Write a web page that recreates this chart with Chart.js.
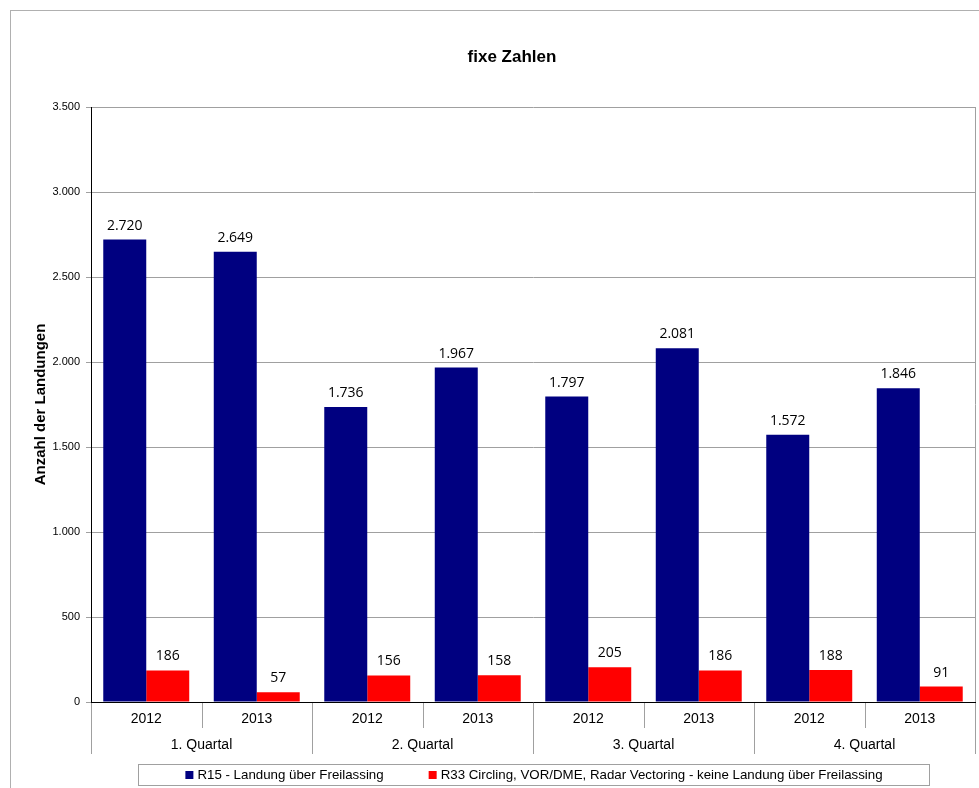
<!DOCTYPE html>
<html><head><meta charset="utf-8">
<script src="https://cdn.jsdelivr.net/npm/chart.js@4/dist/chart.umd.min.js"></script>
<style>html,body{margin:0;padding:0;background:#fff}#wrap{width:979px;height:788px;position:relative}</style>
</head><body><div id="wrap"><canvas id="c"></canvas></div>
<script>
const years = ['2012','2013','2012','2013','2012','2013','2012','2013'];
const quarters = ['1. Quartal','2. Quartal','3. Quartal','4. Quartal'];
const seriesNames = ['R15 - Landung über Freilassing','R33 Circling, VOR/DME, Radar Vectoring - keine Landung über Freilassing'];
const r15 = [2720,2649,1736,1967,1797,2081,1572,1846];
const r33 = [186,57,156,158,205,186,188,91];
const yMin = 0, yMax = 3500, yStep = 500;
const chartTitle = 'fixe Zahlen';
const yTitle = 'Anzahl der Landungen';

const FONT = '"Liberation Sans", Arial, sans-serif';
const LABEL_FONT = '"Open Sans", "DejaVu Sans", sans-serif';
const fmt = v => String(Math.round(v)).replace(/\B(?=(\d{3})+(?!\d))/g, '.');

Chart.defaults.font.family = FONT;
Chart.defaults.color = '#000';

const decor = {
  id: 'decor',
  beforeDraw(chart) {
    const ctx = chart.ctx;
    ctx.save();
    ctx.fillStyle = '#fff';
    ctx.fillRect(0, 0, chart.width, chart.height);
    ctx.strokeStyle = '#b0b0b0';
    ctx.lineWidth = 1;
    ctx.strokeRect(10.5, 10.5, 1200, 1200);
    ctx.restore();
  },
  afterDraw(chart) {
    const ctx = chart.ctx;
    const ca = chart.chartArea;
    const xs = chart.scales.x;
    ctx.save();
    // title
    ctx.fillStyle = '#000';
    ctx.font = 'bold 17px ' + FONT;
    ctx.textAlign = 'center';
    ctx.textBaseline = 'middle';
    ctx.fillText(chartTitle, (ca.left + ca.right) / 2 - 21, 57);
    // right plot border
    ctx.strokeStyle = '#a0a0a0';
    ctx.lineWidth = 1;
    ctx.beginPath();
    ctx.moveTo(Math.round(ca.right) + 0.5, ca.top);
    ctx.lineTo(Math.round(ca.right) + 0.5, ca.bottom);
    ctx.stroke();
    // category dividers
    const n = years.length;
    const cw = (xs.right - xs.left) / n;
    ctx.strokeStyle = '#a0a0a0';
    for (let i = 0; i <= n; i++) {
      const x = Math.round(xs.left + i * cw) + 0.5;
      ctx.beginPath();
      ctx.moveTo(x, ca.bottom + 1);
      ctx.lineTo(x, ca.bottom + (i % 2 === 0 ? 52 : 26));
      ctx.stroke();
    }
    // data labels
    ctx.fillStyle = '#000';
    ctx.font = '14px ' + LABEL_FONT;
    ctx.textAlign = 'center';
    ctx.textBaseline = 'alphabetic';
    chart.data.datasets.forEach((ds, di) => {
      chart.getDatasetMeta(di).data.forEach((el, i) => {
        ctx.fillText(fmt(ds.data[i]), el.x, el.y - 10);
      });
    });
    // legend
    const bx = 138.5, by = 764.5, bw = 791, bh = 21;
    ctx.strokeStyle = '#a0a0a0';
    ctx.strokeRect(bx, by, bw, bh);
    ctx.font = '13.3px ' + FONT;
    ctx.textAlign = 'left';
    ctx.textBaseline = 'middle';
    const sq = 8, gap = 4, spacing = 45;
    const ds = chart.data.datasets;
    const widths = ds.map(d => ctx.measureText(d.label).width);
    let total = 0;
    widths.forEach((w, i) => { total += sq + gap + w + (i ? spacing : 0); });
    let x = bx + bw / 2 - total / 2;
    const cy = by + bh / 2;
    ds.forEach((d, i) => {
      ctx.fillStyle = d.backgroundColor;
      ctx.fillRect(x, cy - sq / 2, sq, sq);
      ctx.fillStyle = '#000';
      ctx.fillText(d.label, x + sq + gap, cy + 0.5);
      x += sq + gap + widths[i] + spacing;
    });
    ctx.restore();
  }
};

new Chart(document.getElementById('c'), {
  type: 'bar',
  data: {
    labels: years,
    datasets: [
      { label: seriesNames[0], data: r15, backgroundColor: '#000080', borderWidth: 0 },
      { label: seriesNames[1], data: r33, backgroundColor: '#ff0000', borderWidth: 0 }
    ]
  },
  options: {
    responsive: true,
    maintainAspectRatio: false,
    animation: false,
    categoryPercentage: 0.778,
    barPercentage: 1.0,
    layout: { padding: { top: 107, left: 10, right: 4, bottom: 34 } },
    plugins: { legend: { display: false }, title: { display: false }, tooltip: { enabled: false } },
    scales: {
      x: {
        type: 'category', labels: years, offset: true,
        grid: { display: false, drawTicks: false },
        border: { color: '#000', width: 1 },
        ticks: { color: '#000', font: { size: 14 }, padding: 9, maxRotation: 0, autoSkip: false },
        afterFit: s => { s.height = 26; }
      },
      x2: {
        type: 'category', labels: quarters, position: 'bottom', offset: true, weight: 1,
        grid: { display: false, drawTicks: false },
        border: { display: false },
        ticks: { color: '#000', font: { size: 14 }, padding: 9, maxRotation: 0, autoSkip: false },
        afterFit: s => { s.height = 26; }
      },
      y: {
        min: yMin, max: yMax,
        ticks: { stepSize: yStep, color: '#000', font: { size: 11 }, padding: 6, callback: v => fmt(v) },
        grid: { color: '#a0a0a0', tickLength: 5 },
        border: { color: '#000', width: 1 },
        title: { display: true, text: yTitle, color: '#000', font: { size: 15, weight: 'bold' }, padding: { top: 22, bottom: 0 } },
        afterFit: s => { s.width = 81; }
      }
    }
  },
  plugins: [decor]
});
</script>
</body></html>
